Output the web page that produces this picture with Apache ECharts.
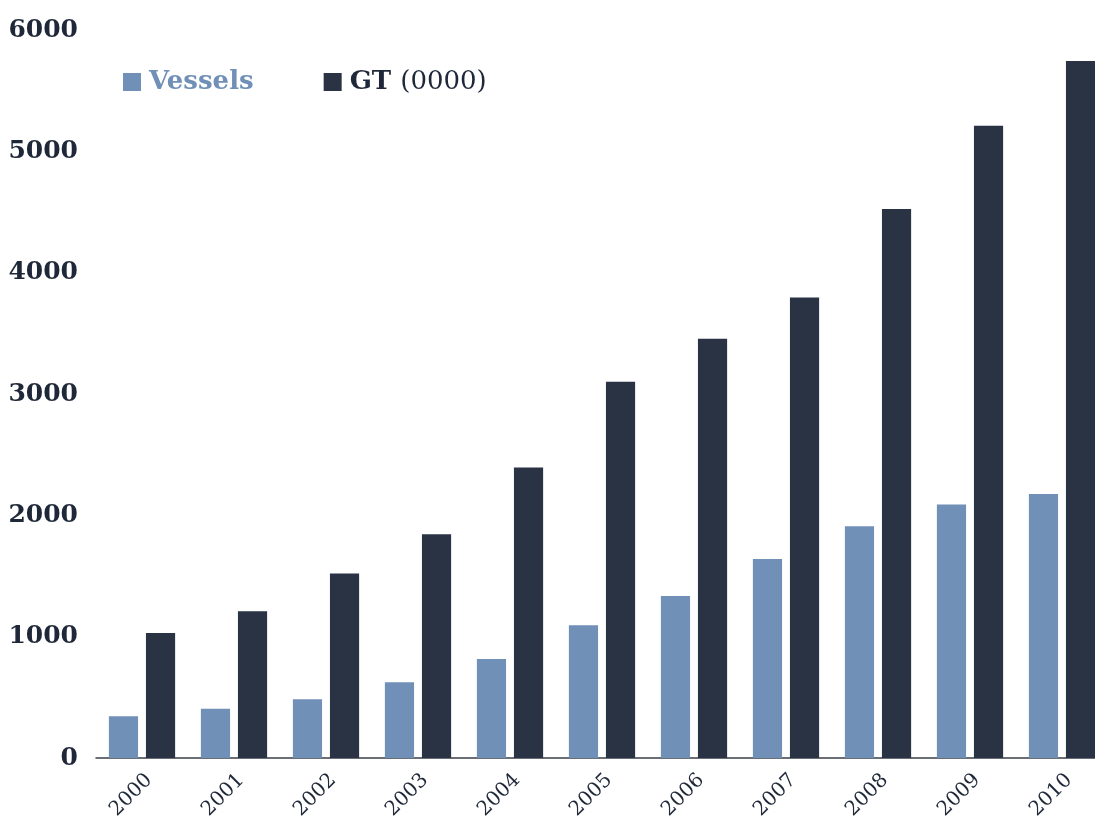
<!DOCTYPE html>
<html lang="en">
<head>
    <meta charset="UTF-8">
    <title>Vessels and GT</title>
    <style>
        html, body { margin: 0; padding: 0; background: #fff; }
        #main { width: 1095px; height: 826px; }
    </style>
</head>
<body>
    <div id="main"></div>
    <script src="https://cdn.jsdelivr.net/npm/echarts@6/dist/echarts.min.js"></script>
    <script>
        var years = ['2000', '2001', '2002', '2003', '2004', '2005', '2006', '2007', '2008', '2009', '2010'];
        var vessels = [345, 405, 485, 625, 815, 1095, 1335, 1640, 1910, 2090, 2175];
        var gt = [1030, 1210, 1520, 1845, 2395, 3100, 3455, 3795, 4525, 5210, 5745];
        var yTicks = [0, 1000, 2000, 3000, 4000, 5000, 6000];

        var serif = '"DejaVu Serif", serif';
        var myChart = echarts.init(document.getElementById('main'));
        option = {
            animation: false,
            color: ['#7090b8', '#2a3344'],
            legend: {
                left: 118,
                top: 64,
                itemWidth: 18,
                itemHeight: 18,
                itemGap: 70,
                icon: 'rect',
                textStyle: {
                    fontFamily: serif,
                    fontSize: 26,
                    fontWeight: 'bold',
                    padding: [0, 0, 0, 3],
                    rich: {
                        b: { fontFamily: serif, fontSize: 26, fontWeight: 'bold', color: '#1f2838' },
                        n: { fontFamily: serif, fontSize: 26, fontWeight: 'normal', color: '#1f2838' }
                    }
                },
                formatter: function (name) {
                    if (name === 'GT (0000)') {
                        return '{b|GT }{n|(0000)}';
                    }
                    return name;
                },
                data: [
                    { name: 'Vessels', textStyle: { color: '#7090b8' } },
                    { name: 'GT (0000)', textStyle: { color: '#1f2838' } }
                ]
            },
            grid: {
                left: 96,
                top: 30,
                width: 1012,
                height: 728,
                outerBoundsMode: 'none'
            },
            xAxis: {
                type: 'category',
                data: years,
                axisTick: { show: false },
                axisLine: { lineStyle: { color: '#3a3f48', width: 1.5 } },
                axisLabel: {
                    rotate: 45,
                    margin: 12,
                    interval: 0,
                    verticalAlign: 'top',
                    color: '#1f2838',
                    fontFamily: serif,
                    fontSize: 20
                }
            },
            yAxis: {
                type: 'value',
                min: yTicks[0],
                max: yTicks[yTicks.length - 1],
                interval: 1000,
                splitLine: { show: false },
                axisLine: { show: false },
                axisTick: { show: false },
                axisLabel: {
                    margin: 18,
                    color: '#1f2838',
                    fontFamily: serif,
                    fontSize: 25,
                    fontWeight: 'bold',
                    formatter: function (v) { return String(v); }
                }
            },
            series: [
                {
                    name: 'Vessels',
                    type: 'bar',
                    data: vessels,
                    barGap: '27%',
                    barCategoryGap: '28%'
                },
                {
                    name: 'GT (0000)',
                    type: 'bar',
                    data: gt
                }
            ]
        };
        myChart.setOption(option);
    </script>
</body>
</html>
